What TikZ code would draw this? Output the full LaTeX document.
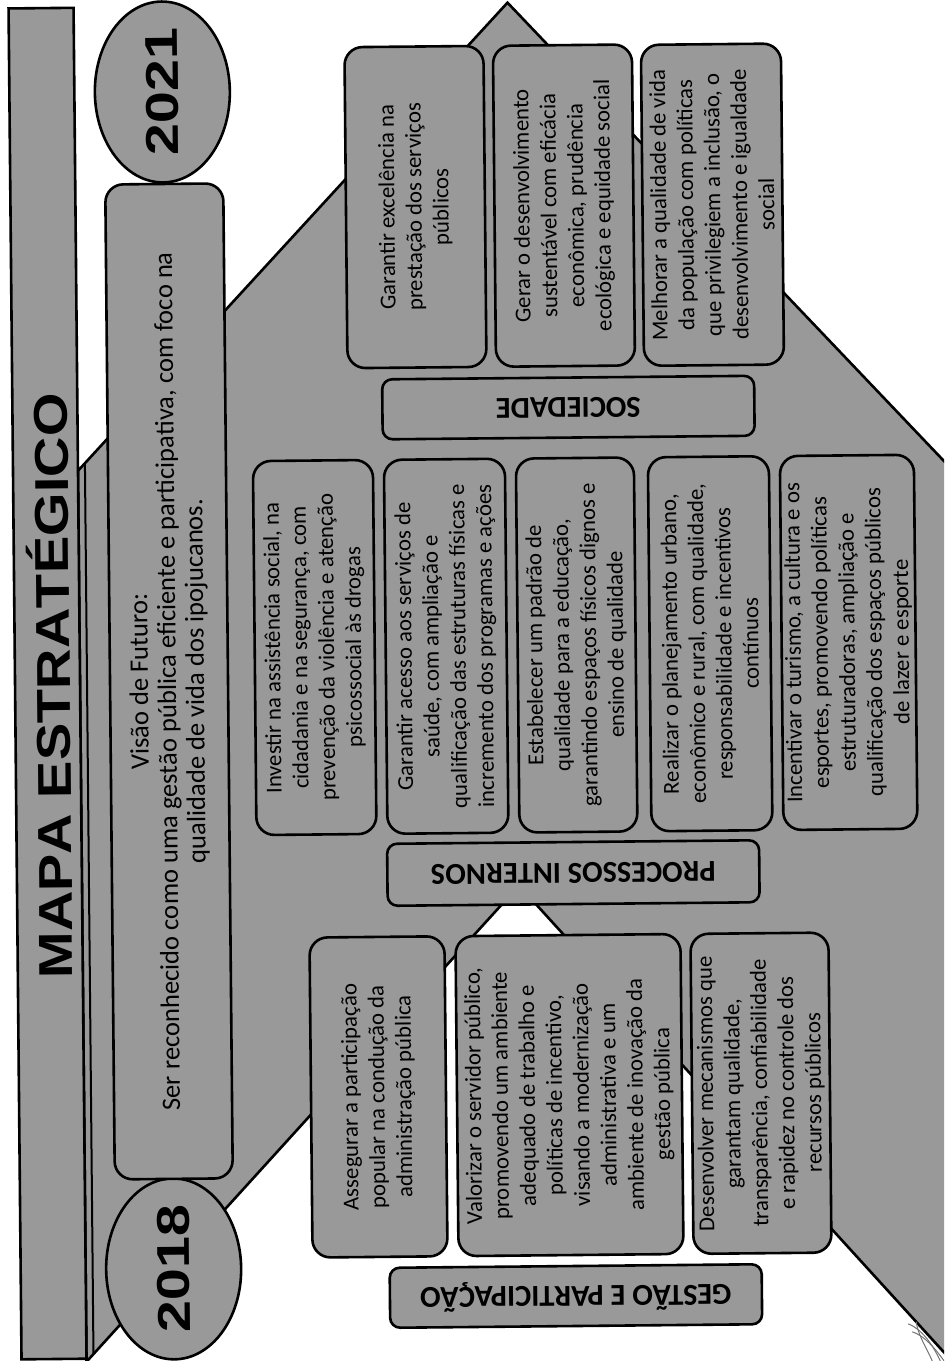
\documentclass[tikz,border=0pt]{standalone}
\usepackage{fontspec}
\setmainfont{Carlito}
\newfontfamily\titlefont[FakeStretch=1.18, Kerning=Off]{Liberation Sans}
\newfontfamily\yearfont[FakeStretch=1.25, Kerning=Off]{Liberation Sans}
\usetikzlibrary{shapes.geometric}
\definecolor{fillgray}{gray}{0.6}
\tikzset{
  grayfill/.style={fill=fillgray, draw=black, line width=1.3pt},
  objbox/.style={grayfill, rounded corners=9pt, rotate=90, align=center, inner sep=1pt,
    minimum width=160.5pt, font=\fontsize{11.4pt}{13.5pt}\selectfont},
  procbox/.style={objbox, minimum width=187pt},
  persp/.style={grayfill, rounded corners=5pt, rotate=180, minimum width=186pt,
    minimum height=30pt, inner sep=0pt, font=\fontsize{15.2pt}{17pt}\selectfont\bfseries},
  yearoval/.style={grayfill, ellipse, rotate=90, minimum width=80pt, minimum height=67.5pt,
    inner sep=0pt, font=\yearfont\bfseries\fontsize{23pt}{23pt}\selectfont},
  titletext/.style={rotate=90, inner sep=0pt, text height=17pt, text depth=0pt,
    font=\titlefont\bfseries\fontsize{23.75pt}{24pt}\selectfont},
}
\begin{document}
\begin{tikzpicture}
\useasboundingbox (0,0) rectangle (472pt,-680.5pt);
\clip (0,0) rectangle (472pt,-680.5pt);
\begin{scope}[x=0.5pt, y=-0.5pt, rotate around={0.55:(472,680)}, transform shape]
  % house-shaped background
  \draw[grayfill, line join=miter] (514,3) -- (1010,534) -- (1010,1438) -- (517,886)
        -- (80,1358) -- (80,467) -- cycle;
  \draw[line width=1pt] (87,460) -- (87,1350);
  % title bar
  \draw[grayfill] (15,4) rectangle (80,1355);
  \node[titletext] (title) at (53,682) {MAPA ESTRATÉGICO};
  % years
  \node[yearoval] (y2021) at (168,89) {2021};
  \node[yearoval] (y2018) at (168,1266) {2018};
  % vision
  \node[grayfill, rounded corners=9pt, rotate=90, minimum width=497.5pt, minimum height=59pt,
        align=center, inner sep=1pt, font=\fontsize{13.3pt}{14pt}\selectfont] (vis) at (169,678.5)
        {Visão de Futuro:\\Ser reconhecido como uma gestão pública eficiente e participativa, com foco na\\qualidade de vida dos ipojucanos.};
  % sociedade
  \node[objbox, minimum height=69.5pt] (s1) at (420,206.5)
        {Garantir excelência na\\prestação dos serviços\\públicos};
  \node[objbox, minimum height=69.5pt] (s2) at (568.5,206.5)
        {Gerar o desenvolvimento\\sustentável com eficácia\\econômica, prudência\\ecológica e equidade social};
  \node[objbox, minimum height=70pt] (s3) at (717,207)
        {Melhorar a qualidade de vida\\da população com políticas\\que privilegiem a inclusão, o\\desenvolvimento e igualdade\\social};
  \node[persp] (soc) at (571,408.5) {SOCIEDADE};
  % processos internos
  \node[procbox, minimum height=60pt] (p1) at (315,646)
        {Investir na assistência social, na\\cidadania e na segurança, com\\prevenção da violência e atenção\\psicossocial às drogas};
  \node[procbox, minimum height=60.5pt] (p2) at (446.5,646)
        {Garantir acesso aos serviços de\\saúde, com ampliação e\\qualificação das estruturas físicas e\\incremento dos programas e ações};
  \node[procbox, minimum height=59pt] (p3) at (577,646)
        {Estabelecer um padrão de\\qualidade para a educação,\\garantindo espaços físicos dignos e\\ensino de qualidade};
  \node[procbox, minimum height=60.5pt] (p4) at (710.5,646)
        {Realizar o planejamento urbano,\\econômico e rural, com qualidade,\\responsabilidade e incentivos\\contínuos};
  \node[procbox, minimum height=67pt] (p5) at (849,646)
        {Incentivar o turismo, a cultura e os\\esportes, promovendo políticas\\estruturadoras, ampliação e\\qualificação dos espaços públicos\\de lazer e esporte};
  \node[persp, minimum height=31pt] (proc) at (571.5,874) {PROCESSOS INTERNOS};
  % gestao e participacao
  \node[objbox, minimum width=160pt, minimum height=67.5pt] (g1) at (374.5,1096)
        {Assegurar a participação\\popular na condução da\\administração pública};
  \node[objbox, minimum width=160pt, minimum height=112.5pt] (g2) at (565.5,1096)
        {Valorizar o servidor público,\\promovendo um ambiente\\adequado de trabalho e\\políticas de incentivo,\\visando a modernização\\administrativa e um\\ambiente de inovação da\\gestão pública};
  \node[objbox, minimum width=160pt, minimum height=69pt] (g3) at (757,1096)
        {Desenvolver mecanismos que\\garantam qualidade,\\transparência, confiabilidade\\e rapidez no controle dos\\recursos públicos};
  \node[persp] (gest) at (570,1297) {GESTÃO E PARTICIPAÇÃO};
  % pen mark at the bottom right
  \draw[black!55, line width=0.5pt] (902,1328) .. controls (915,1333) and (926,1348) .. (934,1366);
  \draw[black!55, line width=0.5pt] (906,1336) .. controls (918,1340) and (928,1352) .. (938,1366);
  \draw[black!55, line width=0.5pt] (910,1326) .. controls (912,1340) and (920,1352) .. (926,1366);
\end{scope}
\end{tikzpicture}
\end{document}
